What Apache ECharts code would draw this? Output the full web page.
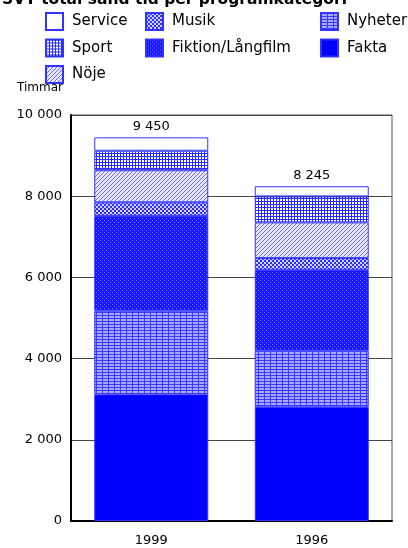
<!DOCTYPE html>
<html><head><meta charset="utf-8">
<script src="https://cdn.jsdelivr.net/npm/echarts@6/dist/echarts.min.js"></script>
<style>html,body{margin:0;padding:0;background:#fff}#c{width:408px;height:548px}</style>
</head><body><div id="c"></div>
<script>
const categories = ['1999', '1996'];
const totals = [9450, 8245];
const fakta = [3120, 2815];
const nyheter = [2060, 1380];
const fiktion = [2330, 1990];
const musik = [340, 290];
const noje = [790, 880];
const sport = [480, 640];
const service = [330, 250];
const yTicks = [0, 2000, 4000, 6000, 8000, 10000];

function pat(w, h, draw) {
  const c = document.createElement('canvas');
  c.width = w; c.height = h;
  const g = c.getContext('2d');
  draw(g);
  return { image: c, repeat: 'repeat' };
}
const B = '#0000ff';
const FONT = 'DejaVu Sans';
const patFiktion = pat(4, 4, g => {
  g.fillStyle = '#1515ff'; g.fillRect(0, 0, 4, 4);
  g.fillStyle = '#8080ff'; g.fillRect(0, 0, 1, 1); g.fillRect(2, 2, 1, 1);
});
const patNyheter = pat(6, 3, g => {
  g.fillStyle = '#a8a8ff'; g.fillRect(0, 0, 6, 3);
  g.fillStyle = '#3a3aff'; g.fillRect(0, 0, 1, 3); g.fillRect(0, 0, 6, 1);
});
const patMusik = pat(4, 4, g => {
  g.fillStyle = '#d0d0ff'; g.fillRect(0, 0, 4, 4);
  g.fillStyle = '#3030ff'; g.fillRect(0, 0, 2, 2); g.fillRect(2, 2, 2, 2);
});
const patNoje = pat(4, 4, g => {
  g.fillStyle = '#e6e6ff'; g.fillRect(0, 0, 4, 4);
  g.fillStyle = '#7070ff';
  for (let i = 0; i < 4; i++) g.fillRect(3 - i, i, 1, 1);
});
const patSport = pat(3, 3, g => {
  g.fillStyle = '#ffffff'; g.fillRect(0, 0, 3, 3);
  g.fillStyle = '#2a2aff'; g.fillRect(0, 0, 1, 3); g.fillRect(0, 0, 3, 1);
});

function ser(name, data, color, extra) {
  return Object.assign({
    name, type: 'bar', stack: 'tot', data, barWidth: 114,
    itemStyle: { color, borderColor: '#3333ff', borderWidth: 1 },
    emphasis: { disabled: true }
  }, extra || {});
}
const fmt = v => String(v).replace(/\B(?=(\d{3})+(?!\d))/g, ' ');
const legendBase = { orient: 'vertical', itemWidth: 17, itemHeight: 17, itemGap: 7.5, icon: 'rect', top: 7,
  textStyle: { fontFamily: FONT, fontSize: 15, color: '#000', padding: [0, 0, 0, 4] }, selectedMode: false };

const option = {
  animation: false,
  title: {
    text: 'SVT total sänd tid per programkategori',
    left: -3, top: -13,
    textStyle: { fontFamily: FONT, fontWeight: 'bold', fontSize: 15.5, color: '#000' }
  },
  legend: [
    Object.assign({ left: 40, data: ['Service', 'Sport', 'Nöje'] }, legendBase),
    Object.assign({ left: 140, data: ['Musik', 'Fiktion/Långfilm'] }, legendBase),
    Object.assign({ left: 315, data: ['Nyheter', 'Fakta'] }, legendBase)
  ],
  grid: { left: 71, right: 16, top: 115, bottom: 27, show: true, borderColor: '#555', borderWidth: 1, backgroundColor: 'transparent' },
  xAxis: {
    type: 'category', data: categories,
    axisLine: { lineStyle: { color: '#000', width: 2 } },
    axisTick: { show: false },
    axisLabel: { color: '#000', fontFamily: FONT, fontSize: 13, margin: 13 }
  },
  yAxis: {
    type: 'value', min: yTicks[0], max: yTicks[yTicks.length - 1], interval: 2000,
    name: 'Timmar', nameLocation: 'end', nameGap: 27,
    nameTextStyle: { color: '#000', fontFamily: FONT, fontSize: 12, align: 'right', verticalAlign: 'middle', padding: [0, 8, 0, 0] },
    axisLine: { show: true, lineStyle: { color: '#000', width: 2 } },
    axisTick: { show: false },
    splitLine: { lineStyle: { color: '#444', width: 1 } },
    axisLabel: { color: '#000', fontFamily: FONT, fontSize: 13, margin: 9, formatter: fmt }
  },
  series: [
    ser('Fakta', fakta, B),
    ser('Nyheter', nyheter, patNyheter),
    ser('Fiktion/Långfilm', fiktion, patFiktion),
    ser('Musik', musik, patMusik),
    ser('Nöje', noje, patNoje),
    ser('Sport', sport, patSport),
    ser('Service', service, '#ffffff', {
      label: { show: true, position: 'top', distance: 4, color: '#000', fontFamily: FONT, fontSize: 13,
        formatter: p => fmt(totals[p.dataIndex]) }
    })
  ]
};
echarts.init(document.getElementById('c'), null, { renderer: 'canvas' }).setOption(option);
</script></body></html>
